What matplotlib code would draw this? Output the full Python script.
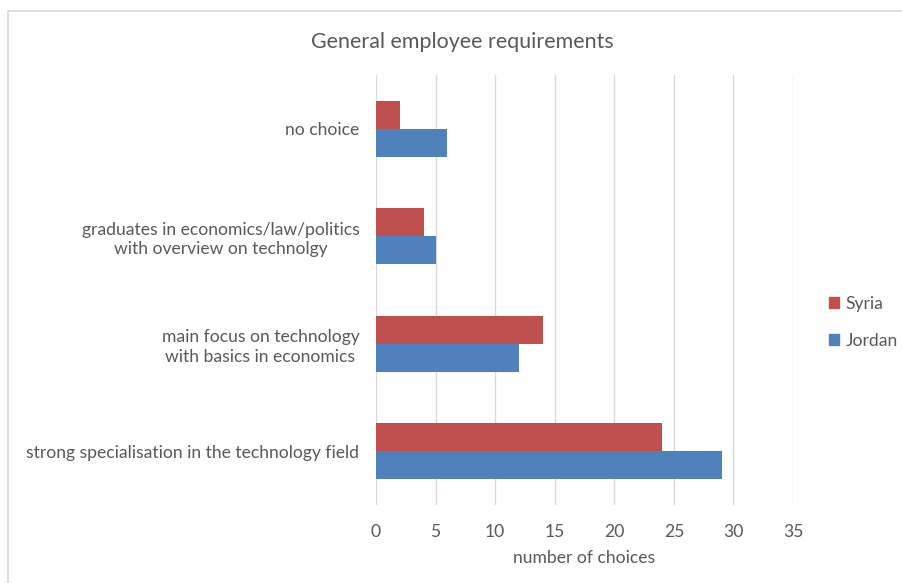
import matplotlib
matplotlib.use("Agg")
import matplotlib.pyplot as plt
import numpy as np
from matplotlib.patches import Rectangle, Patch

plt.rcParams['font.family'] = ['Lato', 'DejaVu Sans']

categories = [
    "strong specialisation in the technology field",
    "main focus on technology\nwith basics in economics",
    "graduates in economics/law/politics\nwith overview on technolgy",
    "no choice",
]
syria = [24, 14, 4, 2]
jordan = [29, 12, 5, 6]
series_names = ["Syria", "Jordan"]
x_ticks = [0, 5, 10, 15, 20, 25, 30, 35]

c_syria = "#C0504D"
c_jordan = "#4F81BD"
text_color = "#595959"
grid_color = "#D9D9D9"
fs = 12.6

W, H = 903, 583
fig = plt.figure(figsize=(W / 100, H / 100), dpi=100)
fig.patch.set_facecolor("white")

# chart frame
fig.patches.append(Rectangle((8 / W, -0.1), 1.2, 1 - 11 / H + 0.1,
                             transform=fig.transFigure, fill=False,
                             edgecolor="#D9D9D9", linewidth=1.2))

ax = fig.add_axes([376 / W, 1 - 505 / H, (793 - 376) / W, (505 - 75) / H])
y = np.arange(len(categories))
h = 0.26
ax.barh(y + h / 2, syria, height=h, color=c_syria, label=series_names[0], zorder=3)
ax.barh(y - h / 2, jordan, height=h, color=c_jordan, label=series_names[1], zorder=3)

ax.set_xlim(0, 35)
ax.set_ylim(-0.5, len(categories) - 0.5)
ax.set_xticks(x_ticks)
ax.set_xticklabels([str(t) for t in x_ticks])
ax.set_yticks(y)
ax.set_yticklabels(categories, multialignment="center", linespacing=1.25)
ax.xaxis.grid(True, color=grid_color, linewidth=1, zorder=0)
ax.set_axisbelow(True)
for s in ax.spines.values():
    s.set_visible(False)
ax.tick_params(axis="both", length=0, labelsize=fs, colors=text_color)
ax.tick_params(axis="x", pad=14)
ax.tick_params(axis="y", pad=12)
ax.set_xlabel("number of choices", fontsize=fs, color=text_color, labelpad=7)

fig.text(462 / W, 1 - 42 / H, "General employee requirements", ha="center",
         va="center", fontsize=15.4, color=text_color)

handles = [Patch(color=c_syria), Patch(color=c_jordan)]
fig.legend(handles, series_names, loc="center left",
           bbox_to_anchor=(829 / W, 1 - 322 / H), frameon=False,
           borderpad=0, borderaxespad=0,
           fontsize=fs, labelcolor=text_color, handlelength=0.6,
           handleheight=0.6, handletextpad=0.35, labelspacing=1.2)

fig.savefig("out.png", dpi=100, facecolor="white")
